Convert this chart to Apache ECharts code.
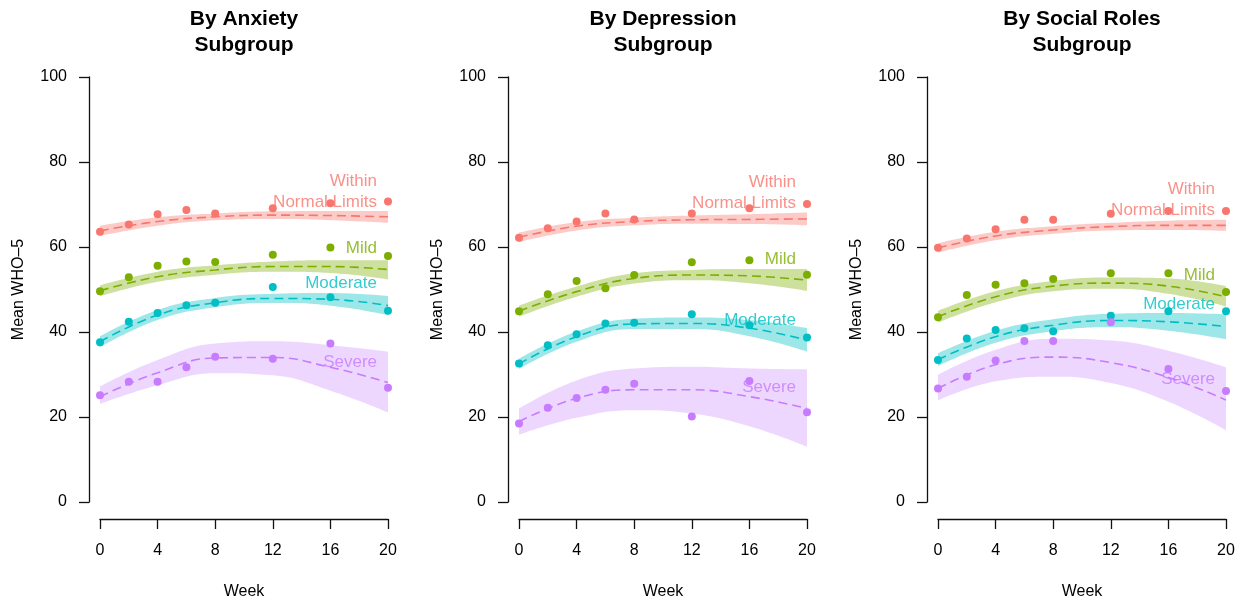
<!DOCTYPE html>
<html>
<head>
<meta charset="utf-8">
<script src="https://cdn.jsdelivr.net/npm/echarts@6/dist/echarts.min.js"></script>
<style>
  html, body { margin: 0; padding: 0; background: #fff; }
  #chart { width: 1256px; height: 608px; }
</style>
</head>
<body>
<div id="chart"></div>
<script>
const weeks = [0, 2, 4, 6, 8, 12, 16, 20];
const fitWeeks = [0, 4, 8, 12, 16, 20];
const panelTitles = ['By Anxiety\nSubgroup', 'By Depression\nSubgroup', 'By Social Roles\nSubgroup'];
const groupNames = ['Within\nNormal Limits', 'Mild', 'Moderate', 'Severe'];
const groupColors = ['#F8766D', '#7CAE00', '#00BFC4', '#C77CFF'];
const yTicks = [0, 20, 40, 60, 80, 100];
const xTicks = [0, 4, 8, 12, 16, 20];

// anxiety panel
const anxObs = [
  [63.6, 65.3, 67.7, 68.7, 67.9, 69.1, 70.3, 70.7],
  [49.6, 52.9, 55.6, 56.6, 56.5, 58.2, 59.9, 57.9],
  [37.6, 42.4, 44.5, 46.3, 46.9, 50.6, 48.2, 45.0],
  [25.1, 28.3, 28.3, 31.7, 34.2, 33.7, 37.3, 26.9]
];
const anxFit = [
  [63.8, 66.0, 67.1, 67.5, 67.4, 67.1],
  [49.7, 53.0, 54.6, 55.4, 55.4, 54.7],
  [37.7, 44.0, 46.9, 47.9, 47.7, 46.2],
  [24.8, 30.4, 33.9, 34.0, 31.7, 28.1]
];
const anxLo = [
  [62.6, 65.0, 66.3, 66.6, 66.3, 65.7],
  [48.4, 51.8, 53.5, 54.2, 53.9, 52.4],
  [36.4, 42.8, 45.8, 46.8, 46.2, 44.0],
  [23.1, 27.5, 30.3, 29.8, 26.2, 21.1]
];
const anxHi = [
  [65.0, 67.0, 67.9, 68.4, 68.5, 68.5],
  [51.0, 54.2, 55.7, 56.6, 56.9, 56.9],
  [39.0, 45.2, 48.0, 49.0, 49.2, 48.5],
  [27.2, 33.4, 37.3, 37.8, 36.9, 35.4]
];
const anxLabelY = [73.1, 59.8, 51.5, 32.8];

// depression panel
const depObs = [
  [62.2, 64.4, 66.0, 67.9, 66.5, 67.9, 69.1, 70.1],
  [44.9, 48.9, 52.0, 50.3, 53.4, 56.4, 56.9, 53.5],
  [32.6, 36.9, 39.5, 42.0, 42.2, 44.2, 41.6, 38.7],
  [18.5, 22.2, 24.5, 26.4, 27.8, 20.1, 28.5, 21.1]
];
const depFit = [
  [62.3, 64.9, 66.0, 66.4, 66.5, 66.6],
  [44.9, 49.5, 52.6, 53.4, 53.2, 52.2],
  [32.5, 38.9, 41.9, 42.0, 40.9, 38.1],
  [18.9, 24.4, 26.4, 26.4, 24.8, 22.0]
];
const depLo = [
  [61.2, 63.9, 65.1, 65.5, 65.4, 65.1],
  [43.6, 48.3, 51.4, 52.2, 51.5, 49.7],
  [31.3, 37.7, 40.7, 40.7, 39.0, 35.4],
  [15.8, 19.8, 21.6, 20.8, 17.8, 13.0]
];
const depHi = [
  [63.4, 65.9, 66.9, 67.4, 67.7, 68.1],
  [46.2, 50.7, 53.8, 54.6, 54.8, 54.8],
  [33.7, 40.1, 43.1, 43.4, 42.8, 40.9],
  [22.0, 28.6, 31.4, 31.8, 31.4, 31.2]
];
const depLabelY = [72.7, 57.2, 42.8, 27.1];

// social roles panel
const socObs = [
  [59.8, 62.0, 64.2, 66.4, 66.4, 67.8, 68.5, 68.5],
  [43.5, 48.7, 51.1, 51.5, 52.5, 53.8, 53.8, 49.4],
  [33.4, 38.5, 40.5, 40.9, 40.2, 43.8, 44.9, 44.9],
  [26.7, 29.5, 33.3, 37.9, 37.9, 42.3, 31.3, 26.1]
];
const socFit = [
  [59.8, 62.6, 64.0, 64.8, 65.1, 65.1],
  [43.6, 48.3, 50.8, 51.5, 50.8, 48.3],
  [33.5, 38.9, 41.6, 42.7, 42.4, 41.3],
  [26.7, 32.3, 34.1, 32.8, 29.3, 24.0]
];
const socLo = [
  [58.7, 61.6, 63.1, 63.9, 64.0, 63.8],
  [42.2, 47.0, 49.6, 50.2, 49.0, 46.0],
  [32.0, 37.5, 40.2, 41.1, 40.3, 38.3],
  [23.9, 28.4, 29.5, 28.0, 23.6, 16.9]
];
const socHi = [
  [60.9, 63.6, 64.9, 65.7, 66.2, 66.4],
  [45.0, 49.6, 52.0, 52.8, 52.6, 50.8],
  [35.0, 40.3, 43.0, 44.3, 44.5, 44.2],
  [29.9, 35.8, 38.4, 38.0, 35.6, 31.7]
];
const socLabelY = [71.0, 53.4, 46.5, 28.9];

const panels = [
  { obs: anxObs, fit: anxFit, lo: anxLo, hi: anxHi, labelY: anxLabelY },
  { obs: depObs, fit: depFit, lo: depLo, hi: depHi, labelY: depLabelY },
  { obs: socObs, fit: socFit, lo: socLo, hi: socHi, labelY: socLabelY }
];

const FONT = '"Liberation Sans", Arial, Helvetica, sans-serif';
const gridLefts = [100, 519, 938];

function hexA(hex, a) {
  const n = parseInt(hex.slice(1), 16);
  return 'rgba(' + (n >> 16) + ',' + ((n >> 8) & 255) + ',' + (n & 255) + ',' + a + ')';
}

let grids = [], xAxes = [], yAxes = [], titles = [], series = [];
panels.forEach((p, i) => {
  grids.push({ left: gridLefts[i], top: 77, width: 288, height: 425 });
  titles.push({
    text: panelTitles[i], left: gridLefts[i] + 144, top: 6, padding: 0, textAlign: 'center',
    textStyle: { fontFamily: FONT, fontSize: 21, fontWeight: 'bold', lineHeight: 26, color: '#000' }
  });
  xAxes.push({
    gridIndex: i, type: 'value', min: xTicks[0], max: xTicks[xTicks.length - 1], interval: 4,
    offset: 17, name: 'Week', nameLocation: 'middle', nameGap: 65,
    nameTextStyle: { fontFamily: FONT, fontSize: 16, color: '#000' },
    axisLine: { show: true, onZero: false, lineStyle: { color: '#111', width: 1.3 } },
    axisTick: { show: true, length: 10, lineStyle: { color: '#111', width: 1.3 } },
    axisLabel: { margin: 24, fontFamily: FONT, fontSize: 16, color: '#000' },
    splitLine: { show: false }
  });
  yAxes.push({
    gridIndex: i, type: 'value', min: yTicks[0], max: yTicks[yTicks.length - 1], interval: 20,
    offset: 11, name: 'Mean WHO\u20135', nameLocation: 'middle', nameGap: 62,
    nameTextStyle: { fontFamily: FONT, fontSize: 16, color: '#000' },
    axisLine: { show: true, onZero: false, lineStyle: { color: '#111', width: 1.3 } },
    axisTick: { show: true, length: 10, lineStyle: { color: '#111', width: 1.3 } },
    axisLabel: { margin: 22, fontFamily: FONT, fontSize: 16, color: '#000' },
    splitLine: { show: false }
  });

  groupNames.forEach((g, j) => {
    const col = groupColors[j];
    const stackId = 'band' + i + '_' + j;
    // confidence band: lower edge + (hi - lo) stacked on top
    // value first so the stack runs along y
    series.push({
      type: 'line', xAxisIndex: i, yAxisIndex: i, stack: stackId, smooth: 0.45, silent: true,
      symbol: 'none', lineStyle: { opacity: 0 }, z: 1, encode: { x: 1, y: 0 },
      data: fitWeeks.map((w, k) => [p.lo[j][k], w])
    });
    series.push({
      type: 'line', xAxisIndex: i, yAxisIndex: i, stack: stackId, smooth: 0.45, silent: true,
      symbol: 'none', lineStyle: { opacity: 0 }, z: 1, encode: { x: 1, y: 0 },
      areaStyle: { color: hexA(col, j === 3 ? 0.3 : 0.38), opacity: 1 },
      data: fitWeeks.map((w, k) => [p.hi[j][k] - p.lo[j][k], w])
    });
    // fitted curve
    series.push({
      type: 'line', xAxisIndex: i, yAxisIndex: i, smooth: 0.45, symbol: 'none', z: 3,
      lineStyle: { color: col, width: 1.6, type: [9, 5] },
      data: fitWeeks.map((w, k) => [w, p.fit[j][k]])
    });
    // observed means
    series.push({
      type: 'scatter', xAxisIndex: i, yAxisIndex: i, symbolSize: 8, z: 4,
      itemStyle: { color: col, opacity: 1 },
      data: weeks.map((w, k) => [w, p.obs[j][k]])
    });
    // group label
    series.push({
      type: 'scatter', xAxisIndex: i, yAxisIndex: i, symbolSize: 0, z: 5, silent: true,
      label: {
        show: true, position: 'left', distance: 11, formatter: g,
        fontFamily: FONT, fontSize: 17, lineHeight: 21, color: col, align: 'right'
      },
      data: [[xTicks[xTicks.length - 1], p.labelY[j]]]
    });
  });
});

const chart = echarts.init(document.getElementById('chart'));
chart.setOption({
  animation: false,
  backgroundColor: '#fff',
  title: titles,
  grid: grids,
  xAxis: xAxes,
  yAxis: yAxes,
  series: series
});
</script>
</body>
</html>
